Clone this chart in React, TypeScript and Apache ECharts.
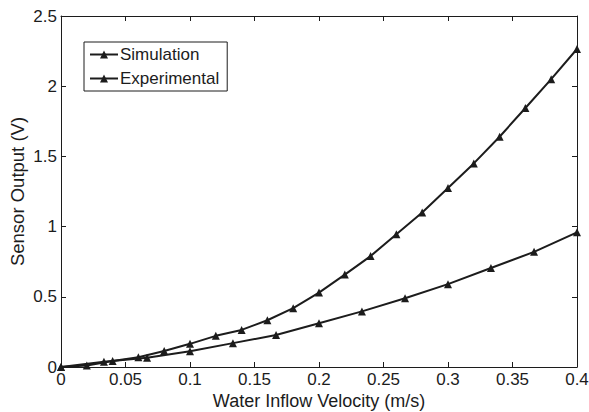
import React, { useEffect, useRef } from "react";
import * as echarts from "echarts";

const simX = [0, 0.02, 0.04, 0.06, 0.08, 0.1, 0.12, 0.14, 0.16, 0.18, 0.2, 0.22, 0.24, 0.26, 0.28, 0.3, 0.32, 0.34, 0.36, 0.38, 0.4];
const simY = [0, 0.01, 0.043, 0.07, 0.114, 0.165, 0.222, 0.264, 0.333, 0.419, 0.53, 0.658, 0.79, 0.945, 1.1, 1.275, 1.45, 1.64, 1.845, 2.05, 2.265];
const expX = [0, 0.0333, 0.0667, 0.1, 0.1333, 0.1667, 0.2, 0.2333, 0.2667, 0.3, 0.3333, 0.3667, 0.4];
const expY = [0, 0.038, 0.066, 0.112, 0.17, 0.228, 0.311, 0.396, 0.49, 0.59, 0.705, 0.82, 0.959];
const seriesNames = ["Simulation", "Experimental"];

const FONT = "Liberation Sans, Arial, sans-serif";
const INK = "#1c1c1c";

export default function App() {
  const ref = useRef<HTMLDivElement>(null);
  useEffect(() => {
    if (!ref.current) return;
    const chart = echarts.init(ref.current, null, { renderer: "svg" });
    const axisCommon = {
      axisLine: { show: true, onZero: false, lineStyle: { color: INK, width: 1 } },
      axisTick: { show: true, inside: true, length: 5, lineStyle: { color: INK } },
      splitLine: { show: false },
    };
    const lineSeries = (name: string, xs: number[], ys: number[], w: number) => ({
      name,
      type: "line",
      data: xs.map((x, i) => [x, ys[i]]),
      symbol: "triangle",
      symbolSize: 8,
      showSymbol: true,
      lineStyle: { color: INK, width: w },
      itemStyle: { color: INK },
      xAxisIndex: 0,
      yAxisIndex: 0,
    });
    chart.setOption({
      animation: false,
      backgroundColor: "#ffffff",
      textStyle: { fontFamily: FONT },
      grid: { left: 61, right: 12, top: 16, bottom: 45, containLabel: false, outerBoundsMode: "none" },
      legend: {
        data: seriesNames,
        orient: "vertical",
        left: 84,
        top: 42,
        padding: [4, 8, 4, 5],
        itemGap: 7,
        itemWidth: 28,
        itemHeight: 10,
        borderColor: INK,
        borderWidth: 1,
        backgroundColor: "#ffffff",
        textStyle: { fontFamily: FONT, fontSize: 17, color: INK, padding: [0, 0, 0, -3] },
      },
      xAxis: [
        {
          ...axisCommon,
          type: "value",
          position: "bottom",
          min: 0,
          max: 0.4,
          interval: 0.05,
          name: "Water Inflow Velocity (m/s)",
          nameLocation: "middle",
          nameMoveOverlap: false,
          nameGap: 25,
          nameTextStyle: { fontFamily: FONT, fontSize: 18, color: INK, lineHeight: 18 },
          axisLabel: { fontFamily: FONT, fontSize: 17, color: INK, margin: 4, lineHeight: 17, formatter: (v: number) => String(+v.toFixed(2)) },
        },
        {
          ...axisCommon,
          type: "value",
          position: "top",
          min: 0,
          max: 0.4,
          interval: 0.05,
          axisLabel: { show: false },
        },
      ],
      yAxis: [
        {
          ...axisCommon,
          type: "value",
          position: "left",
          min: 0,
          max: 2.5,
          interval: 0.5,
          name: "Sensor Output (V)",
          nameLocation: "middle",
          nameMoveOverlap: false,
          nameGap: 34,
          nameTextStyle: { fontFamily: FONT, fontSize: 18.5, color: INK },
          axisLabel: { fontFamily: FONT, fontSize: 17, color: INK, margin: 4, formatter: (v: number) => String(+v.toFixed(1)) },
        },
        {
          ...axisCommon,
          type: "value",
          position: "right",
          min: 0,
          max: 2.5,
          interval: 0.5,
          axisLabel: { show: false },
        },
      ],
      series: [
        lineSeries(seriesNames[0], simX, simY, 2),
        lineSeries(seriesNames[1], expX, expY, 2),
      ],
    });
    return () => chart.dispose();
  }, []);
  return <div ref={ref} style={{ position: "fixed", left: 0, top: 0, width: 589, height: 412 }} />;
}
